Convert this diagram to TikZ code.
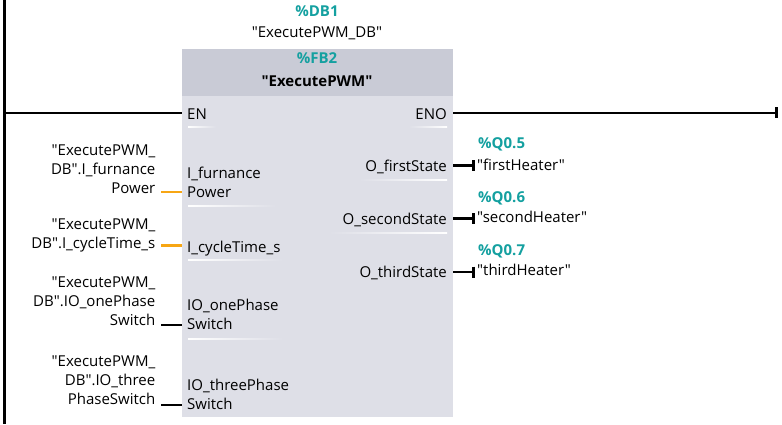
\documentclass[tikz,border=0pt]{standalone}
\usepackage{fontspec}
\setmainfont{Open Sans}[Ligatures=TeXOff]
\usetikzlibrary{arrows.meta}
\newcommand{\dq}{\symbol{34}}
\definecolor{tiateal}{RGB}{20,160,160}
\definecolor{tiaorange}{RGB}{247,166,20}
\definecolor{headgray}{RGB}{201,203,214}
\definecolor{bodygray}{RGB}{222,223,231}
\tikzset{
  lbl/.style={inner sep=0pt, font=\fontsize{15}{18.7}\selectfont},
  addr/.style={inner sep=0pt, font=\fontsize{15}{18.7}\selectfont\bfseries, text=tiateal},
  wire/.style={line width=2.6pt},
  boolwire/.style={line width=2.6pt, -{Bar[width=11pt]}},
  realwire/.style={line width=2.4pt, tiaorange},
}
\begin{document}
\begin{tikzpicture}[x=1pt,y=-1pt]
  \useasboundingbox (0,0) rectangle (782,424);
  % function block
  \node[fill=bodygray, inner sep=0pt, minimum width=271pt, minimum height=368pt, anchor=north west] (blk) at (182,49) {};
  \fill[headgray] (182,49) rectangle (453,96);
  \node[addr] (db) at (317,16) [anchor=base] {\%DB1};
  \node[lbl] (dbname) at (317,37) [anchor=base] {\dq ExecutePWM\_DB\dq};
  \node[addr] (fb) at (317,63) [anchor=base] {\%FB2};
  \node[lbl, font=\fontsize{15}{18.7}\selectfont\bfseries] (fbname) at (317,86) [anchor=base] {\dq ExecutePWM\dq};
  % power rail and EN/ENO
  \draw[line width=3pt] (4.5,0) -- (4.5,424);
  \coordinate (lrail) at (4.5,112.8);
  \coordinate (rrail) at (778,112.8);
  \node[lbl, anchor=base west] (en) at (187,119) {EN};
  \node[lbl, anchor=base east] (eno) at (447,119) {ENO};
  \draw[wire] (lrail) -- (lrail -| blk.west);
  \draw[boolwire] (blk.east |- rrail) -- (rrail);
  % inputs
  \node[lbl, anchor=base west, align=left] (pFurn) at (187,197) {I\_furnance\\Power};
  \node[lbl, anchor=base west] (pCycle) at (187,252) {I\_cycleTime\_s};
  \node[lbl, anchor=base west, align=left] (pOne) at (187,329) {IO\_onePhase\\Switch};
  \node[lbl, anchor=base west, align=left] (pThree) at (187,409) {IO\_threePhase\\Switch};
  \node[lbl, anchor=base east, align=right] (vFurn) at (155.5,193) {\dq ExecutePWM\_\\DB\dq.I\_furnance\\Power};
  \node[lbl, anchor=base east, align=right] (vCycle) at (155.5,248) {\dq ExecutePWM\_\\DB\dq.I\_cycleTime\_s};
  \node[lbl, anchor=base east, align=right] (vOne) at (155.5,325) {\dq ExecutePWM\_\\DB\dq.IO\_onePhase\\Switch};
  \node[lbl, anchor=base east, align=right] (vThree) at (155.5,404) {\dq ExecutePWM\_\\DB\dq.IO\_three\\PhaseSwitch};
  \coordinate (wFurn) at (161,192);
  \coordinate (wCycle) at (161,245.5);
  \coordinate (wOne) at (161,325);
  \coordinate (wThree) at (161,405);
  \draw[realwire] (wFurn) -- (wFurn -| blk.west);
  \draw[realwire] (wCycle) -- (wCycle -| blk.west);
  \draw[wire] (wOne) -- (wOne -| blk.west);
  \draw[wire] (wThree) -- (wThree -| blk.west);
  % outputs
  \node[lbl, anchor=base east] (pFirst) at (447,171.5) {O\_firstState};
  \node[lbl, anchor=base east] (pSecond) at (447,224.5) {O\_secondState};
  \node[lbl, anchor=base east] (pThird) at (447,277.5) {O\_thirdState};
  \coordinate (oFirst) at (474.5,165.5);
  \coordinate (oSecond) at (474.5,218.5);
  \coordinate (oThird) at (474.5,272);
  \draw[boolwire] (blk.east |- oFirst) -- (oFirst);
  \draw[boolwire] (blk.east |- oSecond) -- (oSecond);
  \draw[boolwire] (blk.east |- oThird) -- (oThird);
  \node[addr, anchor=base west] (qFirst) at (478,148) {\%Q0.5};
  \node[lbl, anchor=base west] (tFirst) at (477,170) {\dq firstHeater\dq};
  \node[addr, anchor=base west] (qSecond) at (478,202) {\%Q0.6};
  \node[lbl, anchor=base west] (tSecond) at (477,222.5) {\dq secondHeater\dq};
  \node[addr, anchor=base west] (qThird) at (478,255) {\%Q0.7};
  \node[lbl, anchor=base west] (tThird) at (477,275.5) {\dq thirdHeater\dq};
  % pin separators
  \foreach \y/\w in {126/28, 205.5/88, 259/95, 338.5/95}
    \shade[left color=white, right color=bodygray] (188,\y) rectangle (188+\w,\y+1.4);
  \foreach \y/\w in {126/38, 179/88, 232/118}
    \shade[left color=bodygray, right color=white] (447-\w,\y) rectangle (447,\y+1.4);
\end{tikzpicture}
\end{document}
